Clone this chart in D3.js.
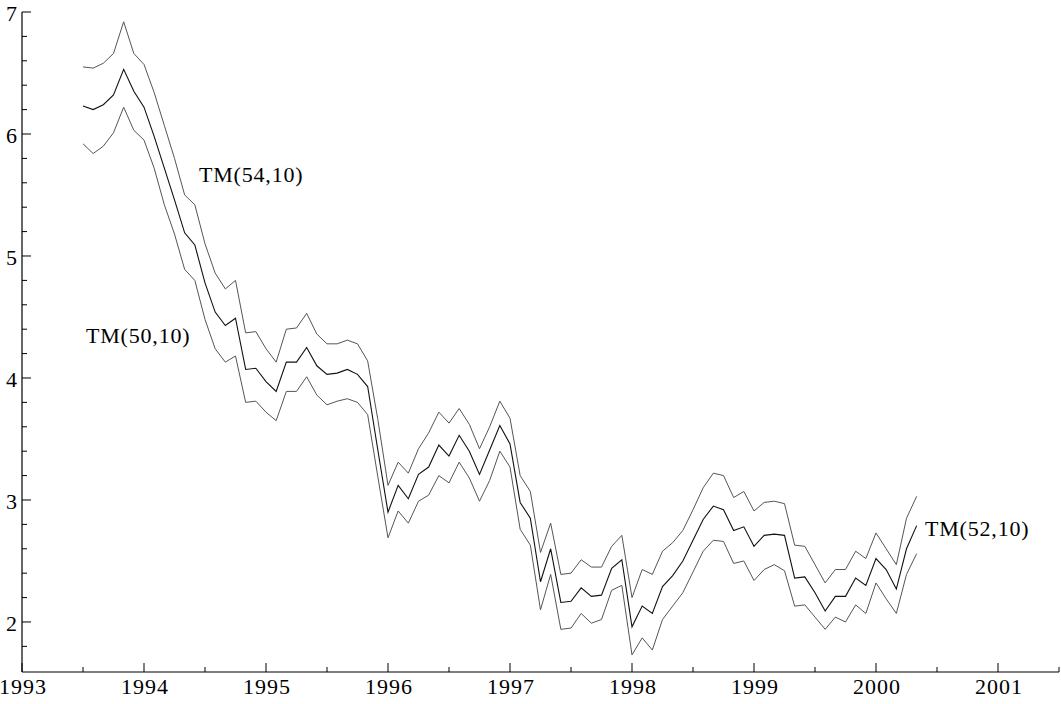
<!DOCTYPE html>
<html>
<head>
<meta charset="utf-8">
<script src="https://cdn.jsdelivr.net/npm/d3@7"></script>
<style>
  body { margin: 0; background: #fff; }
  svg text { font-family: "Liberation Serif", "Times New Roman", serif; fill: #000; }
</style>
</head>
<body>
<div id="canvas"><svg width="1061" height="704"></svg></div>
<script>
// monthly series, first month = mid 1993
const startYear = 1993.5;

const tm54 = [
  6.55, 6.54, 6.58, 6.66, 6.92, 6.66, 6.57, 6.34, 6.07, 5.80,
  5.50, 5.42, 5.10, 4.86, 4.73, 4.80, 4.37, 4.38, 4.24, 4.13,
  4.40, 4.41, 4.53, 4.36, 4.28, 4.28, 4.31, 4.28, 4.14, 3.66,
  3.12, 3.31, 3.22, 3.42, 3.55, 3.72, 3.63, 3.75, 3.62, 3.42,
  3.60, 3.81, 3.67, 3.20, 3.07, 2.57, 2.81, 2.39, 2.40, 2.51,
  2.45, 2.45, 2.62, 2.71, 2.20, 2.43, 2.39, 2.58, 2.65, 2.75,
  2.92, 3.10, 3.22, 3.20, 3.02, 3.07, 2.91, 2.98, 2.99, 2.97,
  2.63, 2.62, 2.47, 2.32, 2.43, 2.43, 2.58, 2.52, 2.73, 2.60,
  2.47, 2.85, 3.03
];

const tm52 = [
  6.23, 6.20, 6.24, 6.32, 6.53, 6.35, 6.22, 5.98, 5.72, 5.46,
  5.19, 5.09, 4.78, 4.54, 4.43, 4.49, 4.07, 4.08, 3.97, 3.89,
  4.13, 4.13, 4.25, 4.10, 4.03, 4.04, 4.07, 4.03, 3.93, 3.41,
  2.90, 3.12, 3.01, 3.21, 3.27, 3.45, 3.36, 3.53, 3.40, 3.21,
  3.41, 3.61, 3.46, 2.98, 2.85, 2.33, 2.60, 2.16, 2.17, 2.28,
  2.21, 2.22, 2.44, 2.51, 1.96, 2.13, 2.07, 2.29, 2.38, 2.50,
  2.67, 2.84, 2.95, 2.92, 2.75, 2.78, 2.62, 2.71, 2.72, 2.71,
  2.36, 2.37, 2.24, 2.09, 2.21, 2.21, 2.36, 2.30, 2.52, 2.43,
  2.27, 2.60, 2.79
];

const tm50 = [
  5.92, 5.84, 5.90, 6.01, 6.22, 6.03, 5.95, 5.72, 5.42, 5.18,
  4.89, 4.80, 4.48, 4.24, 4.13, 4.18, 3.80, 3.81, 3.72, 3.65,
  3.89, 3.89, 4.01, 3.86, 3.78, 3.81, 3.83, 3.80, 3.70, 3.19,
  2.69, 2.91, 2.81, 2.99, 3.04, 3.20, 3.14, 3.31, 3.18, 2.99,
  3.16, 3.40, 3.27, 2.76, 2.63, 2.10, 2.39, 1.94, 1.95, 2.07,
  1.99, 2.02, 2.26, 2.30, 1.73, 1.87, 1.77, 2.02, 2.13, 2.24,
  2.41, 2.58, 2.67, 2.66, 2.48, 2.50, 2.34, 2.43, 2.47, 2.42,
  2.13, 2.14, 2.04, 1.94, 2.04, 2.00, 2.14, 2.07, 2.32, 2.19,
  2.07, 2.39, 2.56
];

const seriesNames = ["TM(54,10)", "TM(52,10)", "TM(50,10)"];
const xTickYears = [1993, 1994, 1995, 1996, 1997, 1998, 1999, 2000, 2001];
const yTickValues = [2, 3, 4, 5, 6, 7];

const svg = d3.select("#canvas").select("svg");

const x = d3.scaleLinear().domain([1993, 2001.5]).range([22, 1059]);
const y = d3.scaleLinear().domain([1.59, 7]).range([672, 12]);

// axes: ticks point inward, minor ticks shorter
const xMinor = d3.range(1993.5, 2001.6, 1);
const yMinor = d3.range(1.8, 7, 0.2).filter(v => Math.abs(v - Math.round(v)) > 0.01);

const axisG = svg.append("g").attr("class", "axes");

axisG.append("line")
  .attr("x1", x(1993)).attr("x2", x(2001.5))
  .attr("y1", y.range()[0]).attr("y2", y.range()[0])
  .attr("stroke", "#000").attr("stroke-width", 1.2);

axisG.append("line")
  .attr("x1", x(1993)).attr("x2", x(1993))
  .attr("y1", y.range()[0]).attr("y2", y(7))
  .attr("stroke", "#000").attr("stroke-width", 1.2);

axisG.selectAll("line.xmaj").data(xTickYears).join("line")
  .attr("class", "xmaj")
  .attr("x1", d => x(d)).attr("x2", d => x(d))
  .attr("y1", 672).attr("y2", 663)
  .attr("stroke", "#000");

axisG.selectAll("line.xmin").data(xMinor).join("line")
  .attr("class", "xmin")
  .attr("x1", d => x(d)).attr("x2", d => x(d))
  .attr("y1", 672).attr("y2", 667)
  .attr("stroke", "#000");

axisG.selectAll("line.ymaj").data(yTickValues).join("line")
  .attr("class", "ymaj")
  .attr("x1", 22).attr("x2", 31)
  .attr("y1", d => y(d)).attr("y2", d => y(d))
  .attr("stroke", "#000");

axisG.selectAll("line.ymin").data(yMinor).join("line")
  .attr("class", "ymin")
  .attr("x1", 22).attr("x2", 27)
  .attr("y1", d => y(d)).attr("y2", d => y(d))
  .attr("stroke", "#000");

axisG.selectAll("text.xlab").data(xTickYears).join("text")
  .attr("class", "xlab")
  .attr("x", d => x(d) + 1)
  .attr("y", 694)
  .attr("text-anchor", "middle")
  .style("font-size", "22px")
  .style("letter-spacing", "1px")
  .text(d => d);

axisG.selectAll("text.ylab").data(yTickValues).join("text")
  .attr("class", "ylab")
  .attr("x", 17)
  .attr("y", d => y(d))
  .attr("dy", "0.42em")
  .attr("text-anchor", "end")
  .style("font-size", "22px")
  .text(d => d);

// the three lines
const line = d3.line()
  .x((d, i) => x(startYear + i / 12))
  .y(d => y(d));

const lineG = svg.append("g").attr("class", "lines");

lineG.append("path").datum(tm54)
  .attr("d", line).attr("fill", "none")
  .attr("stroke", "#555").attr("stroke-width", 1);

lineG.append("path").datum(tm50)
  .attr("d", line).attr("fill", "none")
  .attr("stroke", "#555").attr("stroke-width", 1);

lineG.append("path").datum(tm52)
  .attr("d", line).attr("fill", "none")
  .attr("stroke", "#111").attr("stroke-width", 1.1);

// series labels
const labelG = svg.append("g").attr("class", "labels");
const labelPos = [
  { name: seriesNames[0], x: 199, y: 182 },
  { name: seriesNames[1], x: 925, y: 536 },
  { name: seriesNames[2], x: 86, y: 343 }
];
labelG.selectAll("text").data(labelPos).join("text")
  .attr("x", d => d.x)
  .attr("y", d => d.y)
  .style("font-size", "22px")
  .style("letter-spacing", "0.8px")
  .text(d => d.name);
</script>
</body>
</html>
